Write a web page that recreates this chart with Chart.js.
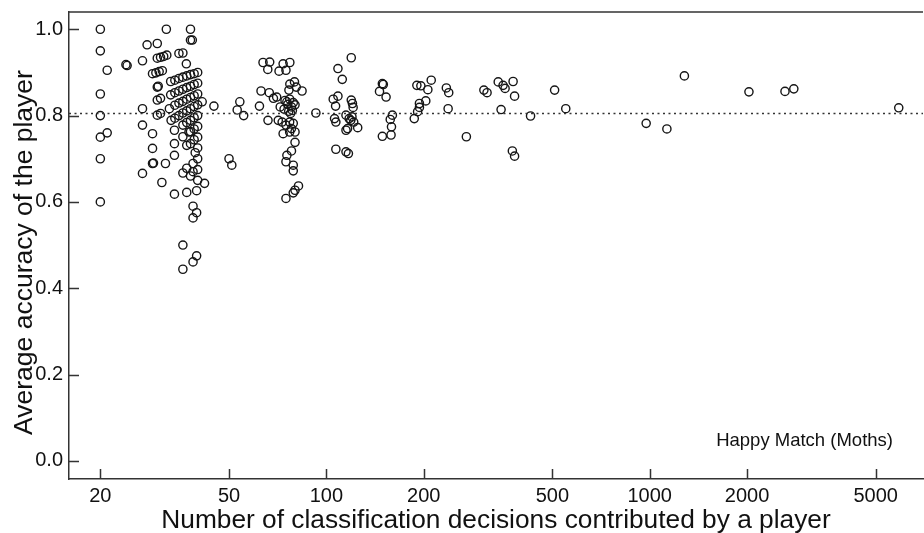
<!DOCTYPE html>
<html>
<head>
<meta charset="utf-8">
<script src="https://cdn.jsdelivr.net/npm/chart.js@4/dist/chart.umd.min.js"></script>
<style>
  html, body { margin: 0; padding: 0; background: #fff; }
</style>
</head>
<body>
<canvas id="chart" width="924" height="533"></canvas>
<script>
// number of decisions per player (x) and their average accuracy (y)
const decisions = [
    20, 20, 20, 20, 20, 20, 20, 21, 21, 24, 24.2, 27, 27, 27, 27, 27.9,
    29, 29.7, 30.4, 31.1, 29, 29, 29, 29.2, 30, 30, 30.7, 31.4, 32.1,
    30, 30.2, 30, 30.7, 30, 30.7, 31, 31.8, 32, 32.7, 33.1,
    // 33 - 45
    33.9, 33.9, 33.9, 33.9, 35, 36, 36.9, 36, 37.6, 37, 38, 38, 38, 38.5,
    36, 37, 38, 38.7, 38.7, 37, 40, 42, 39.7, 38.7, 39.7, 38.7,
    36, 39.7, 38.7, 36, 39.3, 41.3, 44.9,
    // dense block around 33 - 40
    33, 34, 35, 36, 37, 38, 39, 40,
    33, 34, 35, 36, 37, 38, 39, 40,
    34, 35, 36, 37, 38, 39, 40,
    34, 35, 36, 37, 38, 39, 40,
    36, 37, 38, 39, 40,
    38, 39, 40,
    39, 40,
    40, 40, 40,
    // 50 - 125
    50, 51, 54, 53, 55.5, 63.7, 66.8, 65.9, 73.5, 77.1, 71.4, 75,
    62.8, 66.6, 68.6, 70.2, 77.1, 79.7, 76.6, 80.7, 84.1, 62.1,
    72, 74, 75.5, 76, 77, 78, 78.5, 79, 80, 76.5, 77.5, 74.5,
    66, 71, 73, 77, 79, 75, 73.5, 78, 77, 80, 80, 78, 75.5, 75, 79, 79, 82, 80, 79, 75,
    92.8, 108.6, 112, 119.4, 105, 108.6, 106.8, 119.4, 120.4, 121, 106, 107,
    115, 117.6, 119, 116.3, 115, 121.5, 125, 120, 107, 115, 117,
    // 145 - 220
    149, 150, 146, 153, 160, 157.6, 159, 149, 158.5,
    190.5, 196, 211, 206, 194, 203, 194, 191.5, 187,
    // 230 and up
    235, 239, 238, 271, 307, 314, 340, 352, 357, 378, 347, 382, 376, 382,
    428, 508, 550, 975, 1130, 1280, 2027, 2620, 2790, 5890
];

const accuracy = [
    1.0, 0.95, 0.85, 0.80, 0.75, 0.70, 0.60, 0.905, 0.76, 0.918, 0.916, 0.927, 0.816, 0.778, 0.666, 0.964,
    0.897, 0.899, 0.902, 0.904, 0.758, 0.724, 0.689, 0.69, 0.967, 0.933, 0.935, 0.937, 0.94,
    0.866, 0.868, 0.836, 0.840, 0.801, 0.805, 0.645, 0.689, 1.0, 0.816, 0.789,
    // 33 - 45
    0.766, 0.735, 0.708, 0.618, 0.944, 0.945, 0.92, 0.751, 0.762, 0.731, 0.735, 1.0, 0.975, 0.975,
    0.667, 0.678, 0.660, 0.670, 0.689, 0.622, 0.65, 0.643, 0.626, 0.590, 0.575, 0.563,
    0.50, 0.475, 0.461, 0.444, 0.714, 0.832, 0.822,
    // dense block around 33 - 40
    0.879, 0.882, 0.886, 0.889, 0.892, 0.895, 0.897, 0.900,
    0.848, 0.853, 0.857, 0.861, 0.865, 0.868, 0.872, 0.875,
    0.824, 0.829, 0.833, 0.838, 0.842, 0.846, 0.850,
    0.794, 0.800, 0.806, 0.811, 0.816, 0.821, 0.825,
    0.778, 0.784, 0.789, 0.795, 0.800,
    0.763, 0.769, 0.775,
    0.744, 0.750,
    0.725, 0.700, 0.675,
    // 50 - 125
    0.70, 0.685, 0.832, 0.813, 0.80, 0.923, 0.924, 0.907, 0.92, 0.923, 0.903, 0.905,
    0.857, 0.853, 0.84, 0.843, 0.873, 0.878, 0.859, 0.866, 0.857, 0.822,
    0.82, 0.815, 0.832, 0.826, 0.838, 0.82, 0.812, 0.83, 0.825, 0.81, 0.805, 0.835,
    0.789, 0.789, 0.785, 0.785, 0.782, 0.778, 0.758, 0.77, 0.762, 0.762, 0.738, 0.718, 0.708, 0.693, 0.685, 0.672, 0.637, 0.627, 0.621, 0.608,
    0.806, 0.909, 0.884, 0.934, 0.838, 0.845, 0.822, 0.836, 0.828, 0.819, 0.793, 0.785,
    0.801, 0.793, 0.789, 0.77, 0.766, 0.785, 0.772, 0.797, 0.722, 0.716, 0.712,
    // 145 - 220
    0.874, 0.872, 0.856, 0.843, 0.801, 0.791, 0.774, 0.752, 0.755,
    0.870, 0.869, 0.882, 0.860, 0.828, 0.834, 0.819, 0.809, 0.793,
    // 230 and up
    0.864, 0.853, 0.816, 0.751, 0.859, 0.853, 0.878, 0.870, 0.863, 0.879, 0.814, 0.845, 0.718, 0.706,
    0.799, 0.859, 0.816, 0.782, 0.769, 0.892, 0.855, 0.856, 0.862, 0.818
];

const xTicks = [20, 50, 100, 200, 500, 1000, 2000, 5000];
const yTicks = [0, 0.2, 0.4, 0.6, 0.8, 1.0];
const xMin = 16, xMax = 7000;
const yMin = -0.042, yMax = 1.04;
const meanAccuracy = 0.805;
const panelLabel = 'Happy Match (Moths)';
const yTitle = 'Average accuracy of the player';

const font = '"Liberation Sans", Arial, sans-serif';
const axisColor = '#333';

const points = decisions.map((d, i) => ({ x: d, y: accuracy[i] }));

// scales would otherwise reserve room for edge labels
function noPadding(s) {
    s.paddingTop = 0;
    s.paddingBottom = 0;
    s.paddingLeft = 0;
    s.paddingRight = 0;
}

// inward tick marks, top frame line, y title and the panel label
const frame = {
    id: 'frame',
    afterDraw(chart) {
        const { ctx, chartArea: a, scales: { x, y } } = chart;
        ctx.save();
        ctx.strokeStyle = axisColor;
        ctx.lineWidth = 1.5;
        ctx.beginPath();
        ctx.moveTo(a.left, a.top);
        ctx.lineTo(a.right, a.top);
        xTicks.forEach(v => {
            const px = Math.round(x.getPixelForValue(v)) + 0.5;
            ctx.moveTo(px, a.bottom);
            ctx.lineTo(px, a.bottom - 10);
        });
        yTicks.forEach(v => {
            const py = Math.round(y.getPixelForValue(v)) + 0.5;
            ctx.moveTo(a.left, py);
            ctx.lineTo(a.left + 10, py);
        });
        ctx.stroke();

        ctx.fillStyle = '#111';
        ctx.font = '18.5px ' + font;
        ctx.textAlign = 'right';
        ctx.textBaseline = 'alphabetic';
        ctx.fillText(panelLabel, a.right - 30, a.bottom - 33);

        ctx.translate(24.5, 252.5);
        ctx.rotate(-Math.PI / 2);
        ctx.font = '26.5px ' + font;
        ctx.textAlign = 'center';
        ctx.textBaseline = 'middle';
        ctx.fillText(yTitle, 0, 0);
        ctx.restore();
    }
};

new Chart(document.getElementById('chart'), {
    type: 'scatter',
    data: {
        datasets: [{
            type: 'line',
            data: [{ x: xMin, y: meanAccuracy }, { x: xMax, y: meanAccuracy }],
            borderColor: '#333',
            borderWidth: 1.5,
            borderDash: [2, 3.5],
            pointRadius: 0,
            fill: false
        }, {
            data: points,
            pointStyle: 'circle',
            pointRadius: 4.1,
            pointBorderWidth: 1.4,
            pointBorderColor: '#151515',
            pointBackgroundColor: 'rgba(0,0,0,0)'
        }]
    },
    options: {
        responsive: false,
        devicePixelRatio: 1,
        animation: false,
        layout: { autoPadding: false, padding: { top: 12, right: 1, left: 0, bottom: 0 } },
        plugins: { legend: { display: false }, tooltip: { enabled: false } },
        scales: {
            x: {
                type: 'logarithmic',
                min: xMin,
                max: xMax,
                afterBuildTicks: s => { s.ticks = xTicks.map(v => ({ value: v })); },
                afterFit: s => { s.height = 54; noPadding(s); },
                grid: { display: false, drawTicks: false },
                border: { display: true, color: axisColor, width: 1.5 },
                ticks: {
                    autoSkip: false,
                    maxRotation: 0,
                    padding: 5,
                    color: '#111',
                    font: { family: font, size: 20 },
                    callback: v => String(v)
                },
                title: {
                    display: true,
                    text: 'Number of classification decisions contributed by a player',
                    color: '#111',
                    font: { family: font, size: 26.3, lineHeight: 0.9 },
                    padding: 0
                }
            },
            y: {
                min: yMin,
                max: yMax,
                afterBuildTicks: s => { s.ticks = yTicks.map(v => ({ value: v })); },
                afterFit: s => { s.width = 69; noPadding(s); },
                grid: { display: false, drawTicks: false },
                border: { display: true, color: axisColor, width: 1.5 },
                ticks: {
                    padding: 6,
                    color: '#111',
                    font: { family: font, size: 20 },
                    callback: v => v.toFixed(1)
                }
            }
        }
    },
    plugins: [frame]
});
</script>
</body>
</html>
